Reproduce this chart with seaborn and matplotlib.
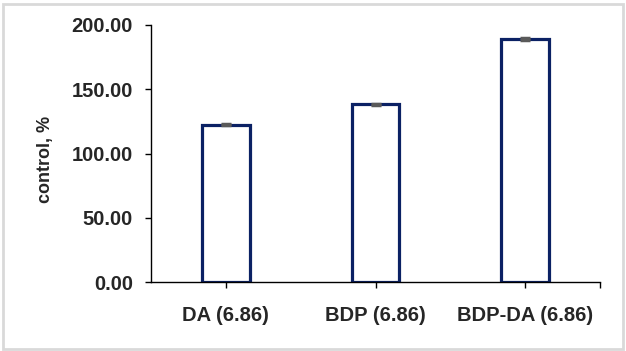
import numpy as np
import seaborn as sns
import matplotlib.pyplot as plt
from matplotlib.patches import Rectangle

# values
categories = ['DA (6.86)', 'BDP (6.86)', 'BDP-DA (6.86)']
control_pct = [122.3, 138.4, 189.1]
errors = [0.5, 0.5, 0.5]
y_ticks = [0, 50, 100, 150, 200]

sns.set_theme(style='white')
plt.rcParams['font.family'] = ['Liberation Sans', 'DejaVu Sans']

fig = plt.figure(figsize=(6.26, 3.51), dpi=100)
ax = fig.add_axes([151 / 626, 69 / 351, 449 / 626, 257 / 351])

navy = '#0b2164'
sns.barplot(x=categories, y=control_pct, color='white', edgecolor=navy,
            linewidth=2.3, width=0.32, errorbar=None, ax=ax)
ax.errorbar(np.arange(len(categories)), control_pct, yerr=errors, fmt='none',
            ecolor='#5a5a5a', elinewidth=0, capsize=3.6, capthick=2.5)

ax.set_xlim(-0.5, 2.5)
ax.set_ylim(0, 200)
ax.set_yticks(y_ticks)
ax.set_yticklabels([f'{v:.2f}' for v in y_ticks], fontsize=14.5, fontweight='bold')
ax.set_xticks([0, 1, 2, 2.5])
ax.set_xticklabels(categories + [''], fontsize=14.5, fontweight='bold')
ax.set_ylabel('control, %', fontsize=13, fontweight='bold')
ax.yaxis.set_label_coords(-0.215, 0.475)
ax.set_xlabel('')

for side in ['top', 'right']:
    ax.spines[side].set_visible(False)
for side in ['left', 'bottom']:
    ax.spines[side].set_color('black')
    ax.spines[side].set_linewidth(1.0)

ax.tick_params(axis='y', direction='out', length=4, width=1, color='black', pad=9, left=True)
ax.tick_params(axis='x', direction='out', length=4, width=1, color='black', pad=13, bottom=True)

fig.patches.append(Rectangle((2.5 / 626, 2.5 / 351), 620 / 626, 345 / 351,
                             transform=fig.transFigure, fill=False,
                             edgecolor='#d9d9d9', linewidth=2))

fig.savefig('out.png', dpi=100)
